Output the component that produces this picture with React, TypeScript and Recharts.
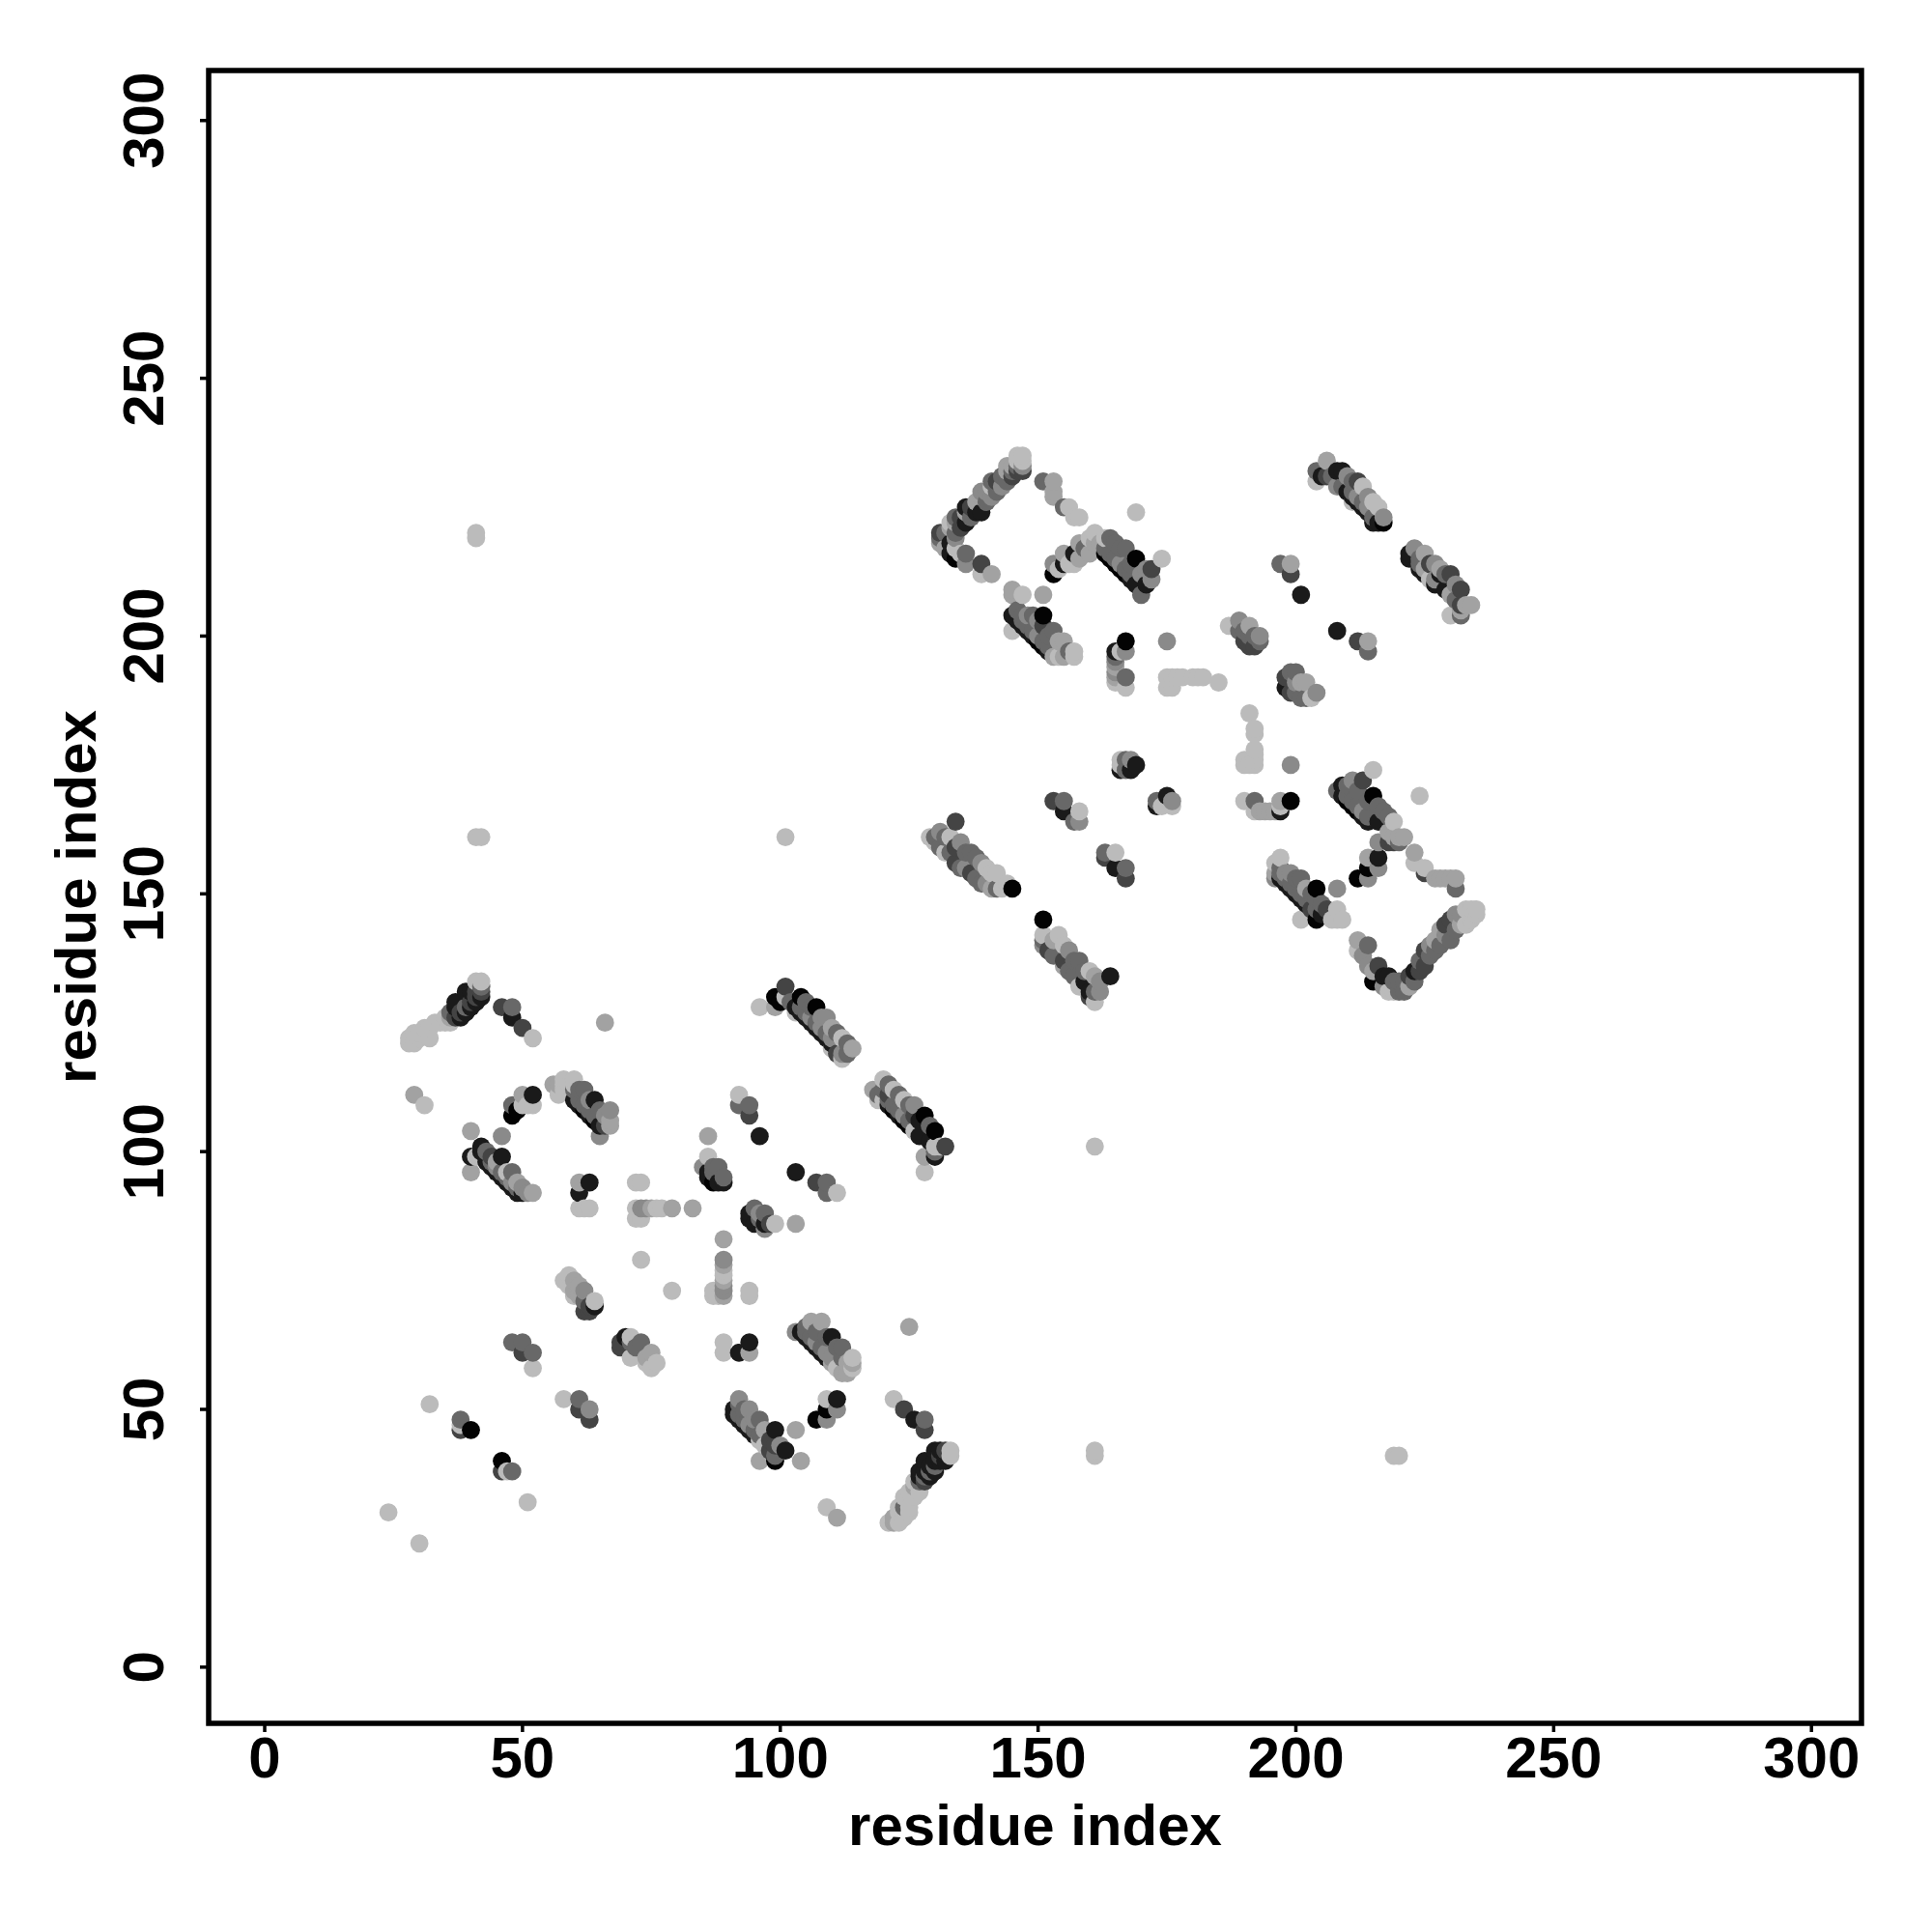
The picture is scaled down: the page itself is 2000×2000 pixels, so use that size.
import React from 'react';
import { ScatterChart, Scatter, XAxis, YAxis, ReferenceArea } from 'recharts';

type Contact = [number, number, number];

// grey levels: 0 is the weakest contact, 6 the strongest
const levelColors = ['#bbbbbb', '#a2a2a2', '#8a8a8a', '#686868', '#444444', '#1a1a1a', '#030303'];

const axisTicks = [0, 50, 100, 150, 200, 250, 300];
const axisTitle = 'residue index';

// lower left block
const stray: Contact[] = [
  [24,30,0],[30,24,0],[32,51,0],[51,32,0],[29,111,1],[31,109,0],[66,125,1],[41,219,0],[41,220,0],[41,161,0],[42,161,0],
  [101,161,0],[161,101,0],[161,41,0],[161,42,0],[219,41,0],[220,41,0],[125,66,1],[109,31,0],[111,29,1],[73,79,0],[79,73,0],
  [169,224,0],[224,169,0],[174,215,0],[175,199,2],[199,175,2],[103,86,1],[103,46,1],[104,40,1],[83,89,1],[58,52,0],
];
const strandA: Contact[] = [
  [28,121,0],[29,121,0],[28,122,0],[29,123,0],[30,123,0],[30,122,0],[31,124,0],[32,122,0],[32,124,0],[33,125,0],[34,125,0],
  [35,125,0],[35,126,0],[36,125,0],[36,126,1],[36,127,3],[37,126,4],[37,128,5],[37,129,5],[38,126,5],[38,127,4],[39,127,5],
  [39,128,3],[39,131,5],[40,128,5],[40,129,4],[40,131,5],[41,129,5],[41,130,4],[41,131,4],[42,130,5],[42,131,4],[42,132,3],
  [41,133,0],[42,133,0],[46,128,4],[48,126,5],[48,128,3],[50,124,4],[52,122,0],
];
const strandB: Contact[] = [
  [40,96,1],[40,99,5],[40,104,1],[41,99,0],[42,100,5],[42,101,5],[43,98,5],[43,100,3],[44,97,5],[44,99,4],[45,96,5],[45,98,1],
  [46,95,5],[46,99,5],[46,103,2],[47,94,5],[47,96,0],[48,93,5],[48,96,3],[49,92,5],[49,94,1],[50,92,5],[50,93,2],[51,92,2],[52,92,1],
  [48,107,6],[48,109,3],[49,108,6],[50,109,0],[50,111,1],[51,109,0],[52,109,0],[52,111,5],
];
const strandC: Contact[] = [
  [56,113,1],[57,111,0],[57,113,1],[58,112,0],[58,113,0],[58,114,0],[59,113,0],[60,110,5],[60,112,3],[60,113,0],[60,114,0],
  [61,109,5],[61,112,3],[62,108,6],[62,112,3],[63,107,5],[63,110,2],[64,106,6],[64,110,5],[65,103,2],[65,105,5],[65,108,3],
  [66,105,4],[66,107,2],[67,105,1],[67,106,1],[67,108,2],
];
const crossD: Contact[] = [
  [61,89,0],[61,92,5],[61,94,1],[62,89,0],[63,89,0],[63,94,5],[72,87,0],[72,89,0],[72,94,0],[73,87,0],[73,89,2],[73,94,0],
  [74,89,2],[75,89,1],[76,89,0],[77,89,0],[79,89,1],
  [87,72,0],[87,73,0],[88,72,0],[89,72,1],[89,73,2],[89,74,2],[89,75,1],[89,76,0],[89,77,0],[89,78,1],[89,79,2],[89,83,1],[94,72,0],[94,73,0],
];
const strandE: Contact[] = [
  [85,97,2],[86,95,5],[86,96,5],[86,99,0],[86,103,1],[87,94,6],[87,96,3],[87,97,3],[88,94,5],[88,97,3],[89,94,5],[89,95,3],
  [92,109,3],[92,111,0],[94,107,4],[94,109,3],[96,103,5],[103,96,5],[107,94,4],[109,92,3],[109,94,3],[111,92,0],
  [94,87,5],[94,88,5],[95,86,5],[95,89,3],[96,86,5],[96,87,3],[96,88,2],[97,85,2],[97,86,5],[97,88,3],[98,86,4],[99,86,0],
];
const strandF: Contact[] = [
  [96,128,0],[99,128,1],[99,130,6],[100,129,6],[101,130,0],[101,132,4],[102,129,3],[103,127,0],[103,128,5],[104,127,5],[104,130,6],
  [105,126,5],[105,129,3],[106,125,5],[106,128,3],[107,124,5],[107,128,6],[108,123,5],[108,126,2],[109,122,5],[109,126,2],[110,120,0],
  [110,121,5],[110,124,1],[111,119,4],[111,123,3],[112,118,0],[112,119,2],[112,122,0],[113,119,3],[113,121,3],[114,120,1],
];
const strandG: Contact[] = [
  [118,112,1],[119,110,0],[119,111,3],[120,110,0],[120,112,3],[120,114,0],[121,109,5],[121,111,4],[121,113,3],[122,108,6],[122,112,0],
  [123,107,5],[123,111,3],[124,106,6],[124,110,0],[125,105,6],[125,109,3],[126,104,0],[126,107,4],[126,109,2],[127,103,5],[127,106,5],
  [128,96,0],[128,99,1],[128,107,6],[129,102,5],[129,105,3],[130,99,5],[130,100,3],[130,101,0],[130,104,6],[131,101,0],[132,101,4],
];
const strandH: Contact[] = [
  [38,46,4],[38,47,0],[38,48,3],[40,46,6],[46,38,4],[46,40,6],[47,38,0],[48,38,3],[48,63,3],[50,61,4],[50,63,3],[52,58,0],[52,61,3],
  [61,50,4],[61,52,3],[63,48,4],[63,50,2],
  [58,75,0],[59,74,0],[59,76,0],[60,72,0],[60,73,1],[60,75,1],[61,72,1],[61,74,1],[62,69,4],[62,71,3],[62,73,2],[63,69,4],[63,70,4],[64,70,5],[64,71,0],
  [69,62,4],[69,63,4],[70,64,5],[71,60,0],[71,63,3],[71,64,0],[72,62,3],[73,63,3],[74,59,0],[74,60,1],[75,58,0],[75,61,1],[76,59,0],
];
const strandI: Contact[] = [
  [89,61,0],[89,63,0],[92,61,5],[94,61,1],[94,63,5],
  [103,65,2],[104,65,5],[105,64,5],[105,66,3],[106,63,5],[106,67,1],[107,62,5],[107,65,3],[108,61,5],[108,67,1],[109,60,5],[109,64,3],
  [110,59,1],[110,64,5],[111,58,0],[111,62,3],[112,57,1],[112,60,3],[112,62,3],[113,57,1],[113,59,1],[114,58,0],[114,59,1],[114,60,0],
];
const strandJ: Contact[] = [
  [91,49,5],[91,50,5],[92,48,5],[92,51,3],[92,52,2],[93,47,5],[93,50,3],[94,46,5],[94,50,2],[95,45,5],[95,48,2],[96,40,1],[96,44,0],
  [96,48,3],[97,43,0],[97,46,1],[98,42,4],[98,44,4],[99,40,6],[99,41,3],[99,43,4],[99,46,5],[100,43,2],[101,42,5],
  [107,48,6],[109,48,2],[109,50,6],[109,52,0],[111,50,2],[111,52,5],
  [122,52,0],[124,50,4],[126,48,5],[128,46,4],[128,48,3],
];
const strandK: Contact[] = [
  [121,28,0],[122,28,1],[122,29,1],[123,28,0],[123,30,0],[123,31,0],[124,29,0],[124,31,3],[124,33,0],[125,30,0],[125,31,0],[125,34,0],
  [126,33,0],[126,35,1],[126,36,0],[127,34,0],[127,36,3],[127,37,5],[127,38,5],[128,36,4],[128,37,3],[128,38,5],[128,40,5],[129,37,5],[129,38,3],[129,39,5],
  [130,38,5],[130,39,3],[130,40,5],[130,42,5],[131,40,5],[131,41,4],[131,42,5],[132,40,5],[132,42,4],[133,41,0],[133,42,0],
];

// upper right block
const strandL: Contact[] = [
  [131,218,1],[131,219,3],[131,220,4],[132,217,1],[132,220,3],[133,216,5],[133,218,5],[133,221,1],[133,222,0],[134,215,6],[134,217,0],
  [134,219,2],[134,220,3],[134,222,1],[134,223,3],[135,216,0],[135,221,4],[135,223,4],[136,214,2],[136,216,3],[136,222,5],[136,224,1],
  [136,225,5],[137,223,3],[137,225,4],[138,224,5],[138,226,1],[139,212,0],[139,214,4],[139,224,5],[139,227,1],[139,228,2],[140,226,3],
  [140,228,2],[141,212,1],[141,227,2],[141,229,0],[141,230,3],[142,228,3],[142,230,4],[143,229,2],[143,231,3],[144,230,3],[144,232,1],
  [144,233,1],[145,231,4],[145,232,3],[145,233,1],[146,232,4],[146,233,3],[146,234,0],[146,235,0],[147,232,4],[147,233,2],[147,234,0],[147,235,0],
  [151,230,3],[153,227,1],[153,228,1],[153,230,1],[155,225,3],[156,225,0],[157,223,0],[158,223,0],
];
const strandM: Contact[] = [
  [153,212,6],[153,214,2],[154,213,0],[155,214,5],[155,216,1],[156,214,0],[157,214,0],[157,216,5],[158,215,1],[158,218,1],[159,217,3],
  [160,216,1],[160,219,0],[161,218,1],[161,220,0],[162,218,1],[163,216,6],[163,219,0],[164,215,6],[164,219,3],[165,214,6],[165,218,3],
  [166,213,6],[166,217,3],[167,212,6],[167,217,3],[168,211,5],[168,214,3],[169,210,5],[169,215,6],[170,208,3],[170,212,2],[171,210,5],
  [171,213,2],[172,211,2],[172,213,4],
];
const strandN: Contact[] = [
  [145,201,0],[145,204,5],[145,208,1],[145,209,1],[146,203,5],[146,205,3],[147,202,5],[147,204,3],[147,208,0],[148,201,5],[148,204,2],
  [149,200,5],[149,204,3],[150,199,6],[150,203,2],[151,198,6],[151,202,4],[151,204,6],[151,208,1],[152,197,5],[152,200,3],[153,196,1],
  [153,201,3],[154,196,0],[154,199,1],[155,196,1],[155,199,1],[156,197,3],[157,196,0],[157,197,0],
];
const crossO: Contact[] = [
  [165,191,0],[165,192,1],[165,193,2],[165,194,1],[165,195,2],[165,196,3],[165,197,5],[166,197,0],[167,190,0],[167,192,3],[167,197,2],[167,199,6],
  [175,190,0],[175,192,0],[176,190,0],[176,192,0],[177,192,0],[178,192,0],[180,192,0],[181,192,0],[182,192,0],[185,191,0],
  [190,175,0],[190,176,0],[191,175,0],[191,185,0],[192,175,0],[192,176,0],[192,177,0],[192,178,0],[192,181,0],[192,182,0],
];
const strandP: Contact[] = [
  [197,214,3],[199,212,4],[199,214,1],[201,208,5],[208,201,5],[212,199,4],[214,197,3],[214,199,1],
  [187,202,0],[189,201,3],[189,203,2],[190,199,4],[190,201,3],[191,198,4],[191,200,3],[191,202,1],[192,198,4],[192,200,3],[193,199,3],[193,200,2],
  [198,190,5],[198,192,4],[199,189,4],[199,193,3],[200,189,3],[200,191,2],[200,193,3],[201,188,3],[201,191,1],[202,188,3],[202,191,1],[203,188,0],[204,189,2],
];
const strandQ: Contact[] = [
  [204,230,0],[204,232,3],[205,231,5],[206,231,4],[206,234,1],[207,231,3],[208,229,2],[208,232,5],[209,229,3],[209,232,5],[210,228,5],[210,231,2],
  [211,226,0],[211,227,5],[211,230,3],[212,226,5],[212,230,4],[213,225,5],[213,229,0],[214,224,5],[214,227,2],[215,222,5],[215,226,0],[216,222,5],
  [216,225,0],[217,222,6],[217,223,2],
  [222,215,5],[222,216,5],[223,217,2],[224,213,5],[224,215,3],[225,212,5],[225,216,1],[226,211,0],[226,214,4],[227,210,5],[227,214,2],[228,212,5],
  [228,213,1],[229,209,5],[229,212,3],[230,204,0],[230,208,1],[230,212,4],[231,207,3],[231,210,2],[232,204,3],[232,205,1],[232,206,4],[232,209,4],[233,206,1],[234,206,1],
];
const strandR: Contact[] = [
  [129,161,0],[130,160,0],[130,161,3],[131,159,3],[131,162,2],[132,158,0],[132,161,3],[133,158,3],[133,161,0],[134,156,4],[134,159,4],[134,164,4],
  [135,155,3],[135,160,2],[136,155,2],[136,158,3],[137,154,4],[137,158,3],[138,153,3],[138,157,3],[139,152,3],[139,156,2],[140,152,2],[140,155,0],
  [141,151,1],[141,154,0],[142,151,3],[142,154,0],[143,151,0],[144,152,0],[145,151,6],
  [151,140,2],[151,141,3],[151,142,0],[151,145,6],[152,139,4],[153,138,3],[153,141,1],[154,142,0],[155,136,1],[155,137,4],[155,140,0],[156,135,3],
  [156,139,2],[157,134,3],[157,137,3],[158,132,0],[158,137,3],[159,133,5],[159,135,3],[160,130,4],[160,131,5],[160,135,0],[161,129,0],[161,131,3],
  [161,134,1],[162,131,2],[162,133,2],[164,134,5],
];
const strandS: Contact[] = [
  [153,168,4],[155,166,5],[155,168,3],[157,164,3],[158,164,2],[158,166,0],[163,157,4],[163,158,3],[165,155,5],[165,158,0],[167,153,4],[167,155,3],
  [166,174,5],[166,175,0],[166,176,0],[167,174,3],[167,176,3],[168,174,5],[168,176,2],[169,175,5],
  [173,167,5],[173,168,3],[174,167,0],[175,169,5],[176,167,0],[176,168,2],
  [190,168,0],[192,166,0],[192,168,3],[193,166,1],[194,166,1],[195,166,1],[196,166,1],[197,166,5],[197,167,0],[197,168,1],[199,168,6],
];
const strandT: Contact[] = [
  [208,170,3],[209,169,5],[209,171,5],[210,168,6],[210,171,3],[211,167,6],[211,172,2],[212,153,6],[212,166,6],[212,170,3],[213,165,5],[213,172,4],
  [214,153,2],[214,155,6],[214,157,1],[214,164,5],[214,168,3],[215,169,6],[215,174,0],[216,155,2],[216,157,5],[216,160,2],[216,164,5],[216,167,3],
  [217,166,3],[218,160,4],[218,162,1],[218,165,3],[219,160,4],[219,161,1],[219,164,0],[220,160,3],[220,161,1],[221,161,1],
  [223,156,0],[223,158,1],[225,154,4],[225,155,0],[227,153,1],[228,153,1],[229,153,1],[230,153,1],[231,151,3],[231,153,1],
];
const strandU: Contact[] = [
  [196,153,2],[196,154,1],[196,156,0],[197,153,5],[197,155,3],[197,157,0],[198,152,5],[198,154,2],[199,151,5],[199,154,2],[200,150,5],[200,153,3],
  [201,145,0],[201,149,5],[201,153,3],[202,148,5],[202,151,1],[203,147,4],[203,150,3],[204,145,6],[204,147,3],[204,149,3],[204,151,6],[205,146,5],
  [205,148,3],[206,147,4],[207,145,0],[208,145,0],[208,147,0],[208,151,2],[209,145,0],
];
const strandV: Contact[] = [
  [212,139,0],[212,141,1],[213,138,2],[214,136,2],[214,140,3],[215,133,6],[215,135,1],[216,136,4],[217,132,2],[217,134,5],[218,131,0],[218,134,5],
  [219,131,0],[219,133,3],[220,131,3],[220,133,3],[221,131,3],[221,133,3],[222,132,1],[222,134,4],[223,133,3],[223,135,5],[224,135,4],[224,137,3],
  [225,136,4],[225,139,4],[226,138,3],[226,140,2],[227,139,3],[227,141,1],[228,140,3],[228,143,1],[229,142,2],[229,144,4],[230,141,3],[230,145,4],
  [231,143,3],[231,146,2],[232,144,1],[232,146,2],[233,144,0],[233,147,0],[234,145,0],[234,146,0],[234,147,0],[235,146,0],[235,147,0],
];
// middle rows of the antiparallel strands, they hide most of the dark edge rows
const middleRows: Contact[] = [
  [44,98,3],[45,97,2],[46,96,3],[47,95,3],[48,94,2],[49,93,3],
  [61,110,3],[62,109,3],[63,108,3],[64,107,3],
  [104,128,3],[105,127,3],[106,126,2],[107,125,3],[108,124,2],[109,123,3],[110,122,2],
  [121,110,3],[122,109,3],[123,108,3],[124,107,2],[125,106,3],
  [105,65,3],[106,64,3],[107,63,2],[108,62,3],[109,61,2],[110,60,2],
  [92,49,3],[93,48,3],[94,47,2],[95,46,3],[96,45,3],
  [163,217,3],[164,216,3],[165,215,3],[166,214,2],[167,213,3],[168,212,3],
  [147,203,3],[148,202,3],[149,201,3],[150,200,2],[151,199,3],[152,198,3],
  [211,228,3],[212,227,2],[213,226,3],[214,225,2],[215,223,3],
  [224,214,3],[225,213,1],[227,211,2],
  [210,169,3],[211,168,3],[212,167,3],[213,166,2],[214,165,3],
  [197,154,3],[198,153,3],[199,152,3],[200,151,3],[201,150,3],[202,149,3],
];

const contacts = [
  stray, strandA, strandB, strandC, crossD, strandE, strandF, strandG, strandH, strandI, strandJ, strandK,
  strandL, strandM, strandN, crossO, strandP, strandQ, strandR, strandS, strandT, strandU, strandV, middleRows,
]
  .flat()
  .map(([i, j, level]) => ({ i, j, level }))
  .sort((a, b) => a.i - b.i || a.j - b.j);

const labelFont = { fontFamily: '"Liberation Sans"', fontWeight: 700, fontSize: 60, fill: '#000' };

const ContactDot = (props: any) => (
  <circle cx={props.cx} cy={props.cy} r={9.4} fill={levelColors[props.payload.level]} />
);

const XTick = ({ x, y, payload }: any) => (
  <text x={x} y={y + 45} textAnchor="middle" {...labelFont}>{payload.value}</text>
);

const YTick = ({ x, y, payload }: any) => (
  <text x={x - 36} y={y} textAnchor="middle" transform={`rotate(-90 ${x - 36} ${y})`} {...labelFont}>{payload.value}</text>
);

export default function App() {
  return (
    <div style={{ position: 'absolute', left: 0, top: 0, width: 2000, height: 2000, background: '#fff' }}>
      <ScatterChart width={2000} height={2000} margin={{ top: 73, right: 73, bottom: 0, left: 0 }}>
        <XAxis
          type="number"
          dataKey="i"
          domain={[-10.87, 309.7]}
          allowDataOverflow
          ticks={axisTicks}
          interval={0}
          height={216}
          axisLine={false}
          tickSize={9}
          tickMargin={2}
          tickLine={{ stroke: '#000', strokeWidth: 3.5 }}
          tick={<XTick />}
          label={{ value: axisTitle, position: 'insideBottom', offset: 90, ...labelFont }}
        />
        <YAxis
          type="number"
          dataKey="j"
          domain={[-10.9, 309.7]}
          allowDataOverflow
          ticks={axisTicks}
          interval={0}
          width={216}
          axisLine={false}
          tickSize={9}
          tickMargin={2}
          tickLine={{ stroke: '#000', strokeWidth: 3.5 }}
          tick={<YTick />}
          label={{ value: axisTitle, angle: -90, position: 'insideLeft', offset: 78, textAnchor: 'middle', ...labelFont }}
        />
        <Scatter data={contacts} shape={ContactDot} isAnimationActive={false} />
        <ReferenceArea
          x1={-10.87}
          x2={309.7}
          y1={-10.9}
          y2={309.7}
          fill="none"
          stroke="#000"
          strokeWidth={5.5}
          strokeOpacity={1}
          ifOverflow="visible"
        />
      </ScatterChart>
    </div>
  );
}
